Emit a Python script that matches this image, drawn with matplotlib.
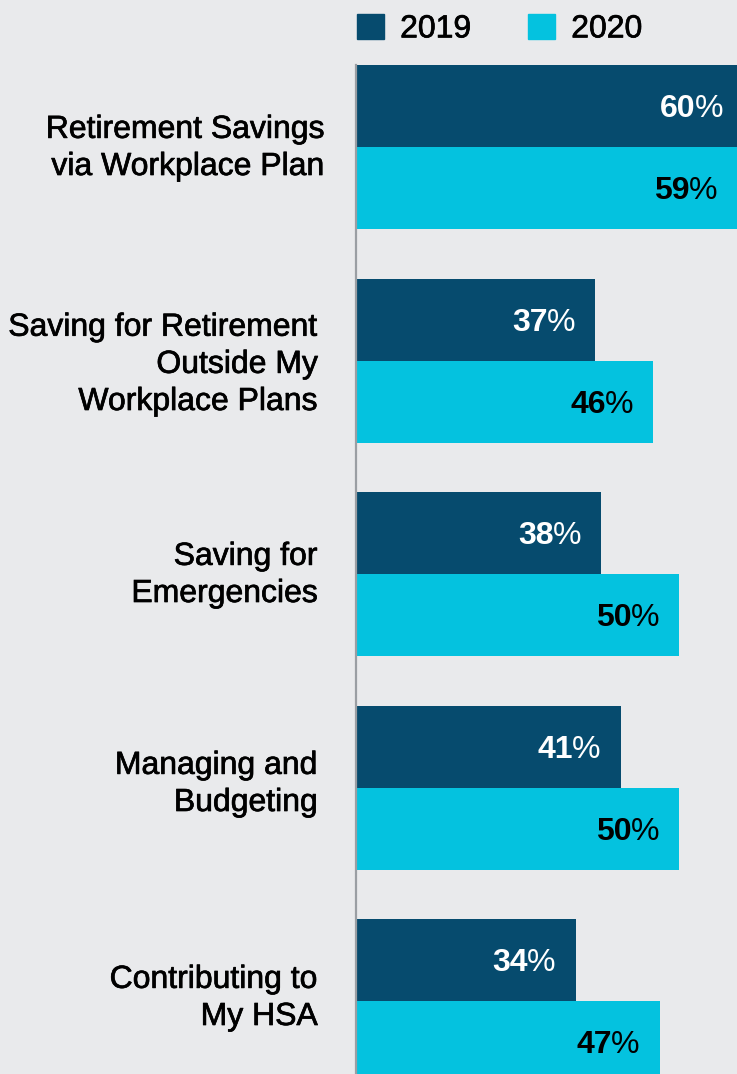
import numpy as np
import matplotlib
matplotlib.use("Agg")
import matplotlib.pyplot as plt
from matplotlib.patches import Patch
import matplotlib.patheffects as pe

categories = [
    "Retirement Savings\nvia Workplace Plan",
    "Saving for Retirement\nOutside My\nWorkplace Plans",
    "Saving for\nEmergencies",
    "Managing and\nBudgeting",
    "Contributing to\nMy HSA",
]
values_2019 = [60, 37, 38, 41, 34]
values_2020 = [59, 46, 50, 50, 47]
series_names = ["2019", "2020"]

DARK = "#064b6e"
CYAN = "#04c2df"
BG = "#e9eaec"

plt.rcParams['font.family'] = ['Liberation Sans', 'DejaVu Sans']

PT = 0.72  # points per pixel at dpi 100
FS = 23


def main():
    W, H = 737, 1074
    fig = plt.figure(figsize=(W / 100, H / 100), dpi=100, facecolor=BG)
    ax = fig.add_axes([356 / W, 0, (W - 356) / W, (H - 65) / H])
    ax.set_facecolor(BG)

    h = 82 / 213.5
    y = np.arange(len(categories))
    ax.barh(y - h / 2, values_2019, height=h, color=DARK, label=series_names[0])
    ax.barh(y + h / 2, values_2020, height=h, color=CYAN, label=series_names[1])

    ax.set_xlim(0, 59)
    ax.set_ylim((H - 147) / 213.5, -h)

    for s in ["top", "right", "bottom"]:
        ax.spines[s].set_visible(False)
    ax.spines["left"].set_color("#9a9ea3")
    ax.spines["left"].set_linewidth(1.6)
    ax.set_xticks([])
    ax.set_yticks([])

    thick = [pe.withStroke(linewidth=0.5, foreground="black")]

    # category labels to the left of the axis (x offset, last-baseline offset in px)
    xoff = [-31, -38, -38, -38, -38]
    yoff = [28, 49.5, 28, 23.5, 24]
    for i, cat in enumerate(categories):
        ax.annotate(cat, xy=(0, i), xycoords=("axes fraction", "data"),
                    xytext=(xoff[i] * PT, -yoff[i] * PT), textcoords="offset points",
                    ha="right", va="baseline", fontsize=FS, color="black",
                    linespacing=1.31, path_effects=thick)

    # value labels: bold digits + regular percent sign
    fig.canvas.draw()
    r = fig.canvas.get_renderer()
    for vals, pos, col in [(values_2019, y - h / 2, "white"), (values_2020, y + h / 2, "black")]:
        for v, p in zip(vals, pos):
            pc = ax.annotate("%", xy=(v, p), xytext=(-20 * PT, -11.4 * PT),
                             textcoords="offset points", ha="right", va="baseline",
                             fontsize=FS, color=col, annotation_clip=False)
            wpx = pc.get_window_extent(r).width
            ax.annotate(str(v), xy=(v, p), xytext=((-20 - wpx + 1) * PT, -11.4 * PT),
                        textcoords="offset points", ha="right", va="baseline",
                        fontsize=FS, fontweight="bold", color=col,
                        annotation_clip=False)

    handles = [Patch(color=DARK), Patch(color=CYAN)]
    leg = fig.legend(handles, series_names, loc="center left",
                     bbox_to_anchor=(357 / W, 1 - 29 / H), ncol=2, frameon=False,
                     fontsize=FS, handlelength=0.85, handleheight=0.85,
                     handletextpad=0.5, columnspacing=1.78, borderpad=0,
                     borderaxespad=0)
    for t in leg.get_texts():
        t.set_path_effects(thick)

    fig.savefig("out.png", dpi=100, facecolor=BG)


if __name__ == '__main__':
    main()
